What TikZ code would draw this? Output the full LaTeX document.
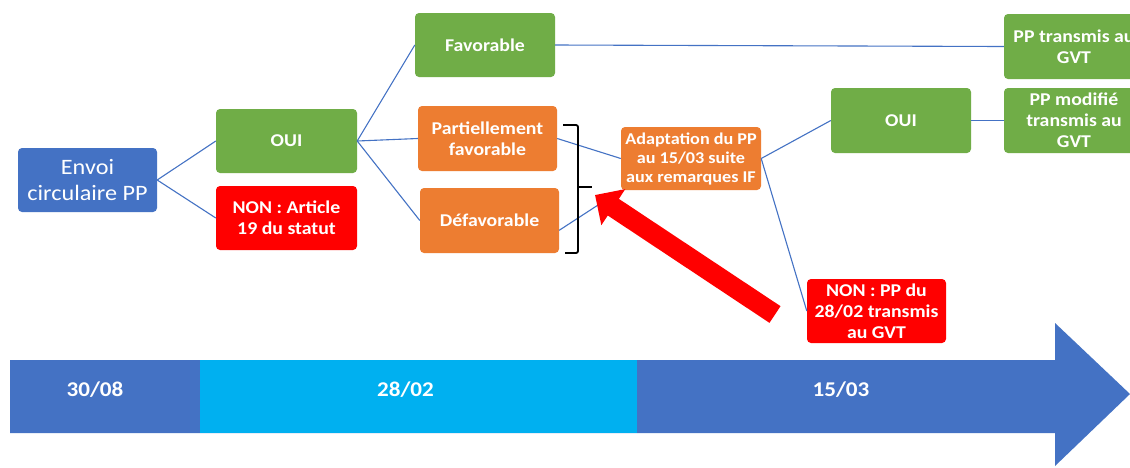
\documentclass[tikz,border=0pt]{standalone}
\usepackage{fontspec}
\setmainfont[FakeStretch=1.1]{Carlito}
\usetikzlibrary{arrows.meta}
\definecolor{cblue}{HTML}{4472C4}
\definecolor{cgreen}{HTML}{70AD47}
\definecolor{corange}{HTML}{ED7D31}
\definecolor{cred}{HTML}{FF0000}
\definecolor{ccyan}{HTML}{00B0F0}
\tikzset{
  box/.style={rectangle, rounded corners=4pt, minimum width=140pt, minimum height=64pt,
    text=white, align=center, inner sep=1pt, font=\bfseries\fontsize{18}{21}\selectfont},
  greenbox/.style={box, fill=cgreen},
  orangebox/.style={box, fill=corange},
  redbox/.style={box, fill=cred},
  bluebox/.style={box, fill=cblue, font=\fontsize{22}{26.5}\selectfont},
  link/.style={draw=cblue, line width=1.1pt},
  tllabel/.style={text=white, font=\bfseries\fontsize{21}{24}\selectfont},
  bracket/.style={draw=black, line width=1.8pt, rounded corners=2pt},
  bigarrow/.style={draw=cred, line width=20pt, -{Triangle[length=22pt,width=42pt]}}
}
\begin{document}
\begin{tikzpicture}[x=1pt,y=-1pt]
\clip (0,0) rectangle (1130,467);
\fill[white] (0,0) rectangle (1130,467);

% timeline
\fill[cblue] (10,360) -- (1055,360) -- (1055,323) -- (1130,394) -- (1055,466) -- (1055,433) -- (10,433) -- cycle;
\fill[ccyan] (200,360) rectangle (637,433);
\node[tllabel] (t1) at (95,390) {30/08};
\node[tllabel] (t2) at (405.5,390) {28/02};
\node[tllabel] (t3) at (841,390) {15/03};

% nodes
\node[bluebox, minimum width=139pt] (envoi) at (87.5,180) {Envoi\\circulaire PP};
\node[greenbox, minimum width=141pt] (oui1) at (286.5,141) {OUI};
\node[redbox, minimum width=141pt] (non1) at (286.5,218) {NON : Article\\19 du statut};
\node[greenbox] (fav) at (485,45) {Favorable};
\node[orangebox, minimum width=139pt, minimum height=65pt] (part) at (487.5,138.5) {Partiellement\\favorable};
\node[orangebox, minimum width=139pt, minimum height=65pt] (def) at (489.5,220.5) {Défavorable};
\node[orangebox, minimum height=63pt, font=\bfseries\fontsize{16.5}{19}\selectfont] (adapt) at (691,158.5) {Adaptation du PP\\au 15/03 suite\\aux remarques IF};
\node[greenbox, minimum height=65pt] (oui2) at (901,120.5) {OUI};
\node[greenbox, minimum height=65pt] (pptrans) at (1074,46.5) {PP transmis au\\GVT};
\node[greenbox, minimum height=65pt] (ppmod) at (1074,120.5) {PP modifié\\transmis au\\GVT};
\node[redbox, minimum width=139pt] (nonpp) at (876.5,311) {NON : PP du\\28/02 transmis\\au GVT};

% connectors
\draw[link] (envoi.east) -- (oui1.west);
\draw[link] (envoi.east) -- (non1.west);
\draw[link] (oui1.east) -- (fav.west);
\draw[link] (oui1.east) -- (part.west);
\draw[link] (oui1.east) -- (def.west);
\draw[link] (fav.east) -- (pptrans.west);
\draw[link] (part.east) -- (adapt.west);
\draw[link] (def.-8) -- (adapt.south west);
\draw[link] (adapt.east) -- (oui2.west);
\draw[link] (adapt.east) -- (nonpp.west);
\draw[link] (oui2.east) -- (ppmod.west);

% bracket
\draw[bracket] (563,125) -- (578,125) -- (578,187) -- (578,253) -- (565,253);
\draw[bracket, rounded corners=0pt] (578,187) -- (592,187);

% big red arrow
\coordinate (redtail) at (775,314.5);
\coordinate (redtip) at (595,195);
\draw[bigarrow] (redtail) -- (redtip);
\end{tikzpicture}
\end{document}
